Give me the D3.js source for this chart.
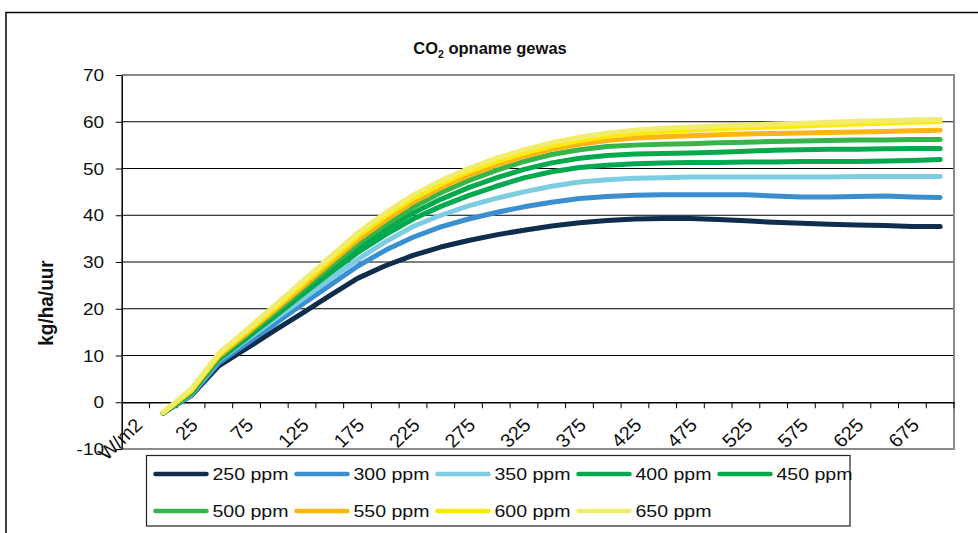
<!DOCTYPE html>
<html><head><meta charset="utf-8">
<script src="https://cdn.jsdelivr.net/npm/d3@7"></script>
<style>body{margin:0;background:#fff}svg{display:block}text{font-family:"Liberation Sans",Arial,sans-serif;fill:#111}</style>
</head><body><svg id="c" width="978" height="533"></svg>
<script>
const categories = ["W/m2","0","25","50","75","100","125","150","175","200","225","250","275","300","325","350","375","400","425","450","475","500","525","550","575","600","625","650","675","700"];
const xTickLabels = ["W/m2","25","75","125","175","225","275","325","375","425","475","525","575","625","675"];
const yTicks = [-10,0,10,20,30,40,50,60,70];
const seriesNames = ["250 ppm","300 ppm","350 ppm","400 ppm","450 ppm","500 ppm","550 ppm","600 ppm","650 ppm"];
const s250 = [null,-2.3,1.4,7.8,11.5,15.3,19.0,22.8,26.5,29.2,31.4,33.2,34.6,35.8,36.8,37.7,38.4,38.9,39.2,39.3,39.3,39.1,38.8,38.5,38.3,38.1,37.9,37.8,37.6,37.6];
const s300 = [null,-2.3,1.5,8.4,12.5,16.7,20.9,25.0,29.1,32.5,35.3,37.5,39.2,40.6,41.8,42.8,43.6,44.0,44.3,44.4,44.4,44.4,44.4,44.1,43.9,43.9,44.0,44.1,43.9,43.8];
const s350 = [null,-2.3,1.7,9.0,13.3,17.7,22.0,26.3,30.5,34.3,37.6,40.0,42.0,43.6,45.0,46.2,47.1,47.6,47.9,48.0,48.2,48.2,48.2,48.2,48.2,48.2,48.3,48.3,48.3,48.3];
const s400 = [null,-2.3,1.9,9.2,13.7,18.3,23.0,27.6,32.0,35.8,39.2,41.9,44.2,46.2,48.0,49.3,50.2,50.7,51.0,51.2,51.3,51.3,51.4,51.4,51.5,51.5,51.5,51.6,51.7,51.9];
const s450 = [null,-2.3,2.0,9.4,14.0,18.7,23.5,28.3,33.0,36.9,40.5,43.4,45.9,48.0,49.8,51.2,52.2,52.8,53.1,53.2,53.3,53.5,53.7,53.9,54.0,54.1,54.1,54.2,54.3,54.3];
const s500 = [null,-2.3,2.2,9.6,14.3,19.1,24.0,28.9,33.8,37.9,41.7,44.8,47.4,49.6,51.5,53.0,54.0,54.7,55.0,55.2,55.3,55.5,55.6,55.8,55.9,56.0,56.1,56.1,56.2,56.2];
const s550 = [null,-2.2,2.4,9.9,14.7,19.6,24.6,29.7,34.7,38.9,42.8,45.9,48.5,50.7,52.6,54.1,55.2,56.0,56.5,56.8,57.0,57.2,57.4,57.5,57.6,57.7,57.8,57.9,58.1,58.2];
const s600 = [null,-2.2,2.6,10.2,15.1,20.1,25.2,30.4,35.5,39.8,43.6,46.7,49.3,51.5,53.3,54.8,56.0,56.9,57.5,57.9,58.2,58.5,58.7,58.9,59.1,59.3,59.5,59.7,59.9,60.0];
const s650 = [null,-2.1,2.8,10.5,15.5,20.6,25.8,31.0,36.2,40.5,44.3,47.4,50.0,52.2,54.0,55.5,56.7,57.6,58.2,58.6,58.9,59.1,59.3,59.5,59.7,59.9,60.1,60.2,60.4,60.5];
const seriesValues = [s250,s300,s350,s400,s450,s500,s550,s600,s650];
const colors = ["#0f2d4d","#3a8fd1","#7dcde2","#00a84f","#04a94c","#36b54a","#fdb515","#fbea0a","#f2ec6c"];

const SX = 1.15;
const svg = d3.select("#c");
svg.append("rect").attr("width",978).attr("height",533).attr("fill","#fff");
svg.append("path").attr("d","M6,540V12.5H990").attr("fill","none").attr("stroke","#000").attr("stroke-width",1.5);

const L=121.7, R=954, T=75, B=449;
const x = d3.scaleBand().domain(categories).range([L,R]).padding(0);
const y = d3.scaleLinear().domain([-10,70]).range([B,T]);
const bw = x.bandwidth();

function stext(g, tx, ty, str, size, anchor, weight, rot, sx){
  const k = sx==null?SX:sx;
  const t = g.append("text")
    .attr("transform",`translate(${tx},${ty}) scale(${k},1)` + (rot?` rotate(${rot})`:""))
    .attr("text-anchor",anchor).attr("font-size",size);
  if(weight) t.attr("font-weight",weight);
  t.text(str);
  return t;
}

// gridlines
svg.append("g").selectAll("line").data(yTicks.filter(v=>v>0 && v<70)).join("line")
  .attr("x1",L).attr("x2",R).attr("y1",d=>y(d)).attr("y2",d=>y(d))
  .attr("stroke","#000").attr("stroke-width",1);

// plot border (top, right, bottom) gray
svg.append("path").attr("d",`M${L},${T}H${R}V${B}H${L}`).attr("fill","none").attr("stroke","#8a8a8a").attr("stroke-width",2);

// y axis
const yAxis = svg.append("g").attr("transform",`translate(${L},0)`)
  .call(d3.axisLeft(y).tickValues(yTicks).tickSize(6).tickSizeOuter(0).tickFormat(""));
yAxis.select(".domain").attr("stroke","#000").attr("stroke-width",1.5);
yAxis.selectAll(".tick line").attr("stroke","#000");
const yl = svg.append("g");
yTicks.forEach(v=>{ stext(yl, 104, y(v)+6, String(v), 16.5, "end"); });

// x axis at 0
const xAxis = svg.append("g").attr("transform",`translate(0,${y(0)})`)
  .call(d3.axisBottom(x).tickSize(0).tickFormat(""));
xAxis.select(".domain").attr("stroke","#000").attr("stroke-width",1.5);
xAxis.selectAll(".tick").remove();
const bounds = categories.map(c=>x(c)).concat([R]);
xAxis.selectAll("line.tk").data(bounds.slice(1)).join("line").attr("class","tk")
  .attr("x1",d=>d).attr("x2",d=>d).attr("y1",0).attr("y2",6).attr("stroke","#000").attr("stroke-width",1);
const xl = svg.append("g");
xTickLabels.forEach(lbl=>{
  const cx = x(lbl)+bw/2;
  stext(xl, cx+8, y(0)+24, lbl, 19, "end", null, -45, 1.05);
});

// lines
const line = d3.line().defined(d=>d.v!=null).x(d=>x(d.c)+bw/2).y(d=>y(d.v));
seriesValues.forEach((vals,i)=>{
  const data = categories.map((c,j)=>({c, v: vals[j]}));
  svg.append("path").datum(data).attr("d",line).attr("fill","none")
    .attr("stroke",colors[i]).attr("stroke-width",5)
    .attr("stroke-linejoin","round").attr("stroke-linecap","round");
});

// title
const tg = svg.append("g").attr("transform",`translate(490,54)`);
const tt = tg.append("text").attr("text-anchor","middle").attr("font-size",16.5).attr("font-weight","bold");
tt.append("tspan").text("CO");
tt.append("tspan").attr("font-size",10.5).attr("dy",4).text("2");
tt.append("tspan").attr("dy",-4).text(" opname gewas");

// y title
stext(svg, 53, 303, "kg/ha/uur", 19, "middle", "bold", -90, 1.1);

// legend
const lg = svg.append("g");
lg.append("rect").attr("x",146.5).attr("y",455.5).attr("width",703.5).attr("height",70.5)
  .attr("fill","#fff").attr("stroke","#222").attr("stroke-width",1.2);
seriesNames.forEach((n,i)=>{
  const col=i%5,row=Math.floor(i/5);
  const lx = 153.5 + col*141, ly = 474 + row*37;
  lg.append("line").attr("x1",lx+2).attr("x2",lx+53).attr("y1",ly).attr("y2",ly)
    .attr("stroke",colors[i]).attr("stroke-width",4.5).attr("stroke-linecap","round");
  stext(lg, lx+59, ly+6, n, 17, "start");
});
</script></body></html>
